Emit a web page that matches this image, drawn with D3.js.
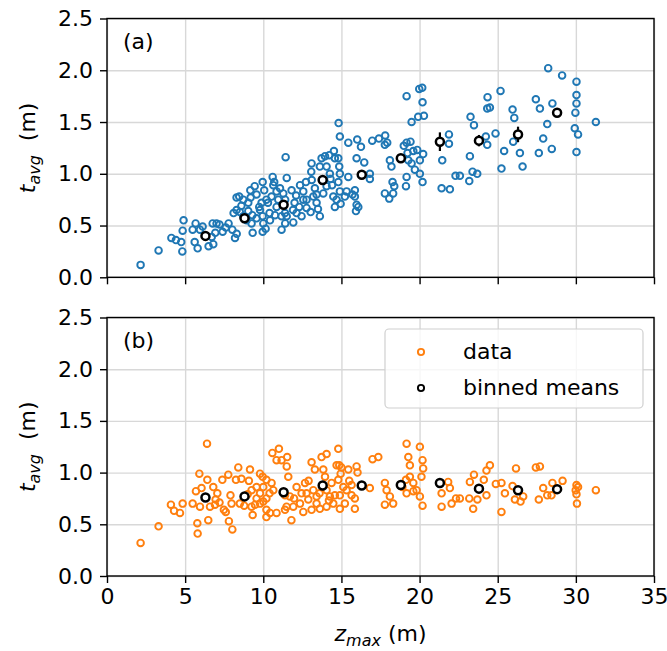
<!DOCTYPE html>
<html>
<head>
<meta charset="utf-8">
<script src="https://cdn.jsdelivr.net/npm/d3@7"></script>
<style>
  body { margin: 0; background: #fff; }
  svg { font-family: "DejaVu Sans", sans-serif; }
</style>
</head>
<body>
<svg id="chart"></svg>
<script>
// panel (a) data: [z_max, t_avg]
let dataA = [
  [2.15,0.12],[3.30,0.26],[4.12,0.38],[4.41,0.36],[4.75,0.34],[4.82,0.25],[4.90,0.55],[4.84,0.45],
  [5.48,0.46],[5.67,0.52],[5.61,0.34],[5.80,0.28],[5.95,0.46],[6.12,0.49],[6.50,0.30],[6.80,0.32],
  [6.76,0.52],[7.01,0.52],[6.93,0.43],[6.70,0.39],[7.40,0.44],[7.78,0.52],[8.02,0.46],[8.19,0.38],
  [8.30,0.42],[7.20,0.51],[8.29,0.77],[8.46,0.78],[9.17,0.84],[9.19,0.77],[8.29,0.65],[8.50,0.63],
  [9.04,0.64],[9.30,0.60],[9.25,0.52],[9.32,0.43],[8.72,0.59],[9.96,0.92],[10.06,0.84],[10.6,0.97],
  [10.64,0.89],[11.07,0.86],[9.89,0.72],[9.79,0.65],[9.96,0.59],[10.0,0.52],[10.15,0.47],[9.96,0.44],
  [10.3,0.72],[10.4,0.62],[10.85,0.68],[11.17,0.46],[11.43,1.16],[11.5,0.96],[11.4,0.52],
  [9.45,0.88],[9.57,0.80],[9.74,0.68],[10.2,0.75],[10.53,0.78],[10.85,0.83],[10.96,0.75],[11.28,0.81],
  [11.39,0.62],[11.17,0.59],[10.75,0.60],[10.43,0.55],[9.57,0.57],[8.93,0.55],[8.72,0.75],[9.04,0.72],
  [11.81,0.84],[11.5,0.59],[11.92,0.53],[12.35,0.89],[12.56,0.83],[12.73,0.92],[12.77,0.75],[13.09,1.10],
  [13.07,1.02],[13.1,0.94],[13.3,0.86],[13.41,0.80],[13.03,0.63],[13.62,0.59],[13.41,0.72],[13.62,1.07],
  [13.73,1.15],[13.95,1.17],[14.22,1.18],[14.52,1.22],[14.58,1.15],[14.05,1.07],[14.26,1.00],[14.05,0.88],
  [14.4,0.89],[14.48,0.78],[14.8,1.15],[14.86,1.07],[14.9,1.00],[14.82,1.49],[14.9,1.36],[14.8,0.92],
  [14.9,0.83],[14.95,0.71],[15.22,0.78],[15.44,0.97],[15.44,1.30],[15.71,0.80],[15.86,0.84],[15.97,1.15],
  [16.08,0.68],[15.93,0.64],[16.01,1.33],[16.25,1.26],[16.46,1.11],[16.82,1.00],[16.82,0.95],[16.97,1.32],
  [17.4,1.34],[17.8,1.37],[17.78,1.28],[17.93,1.30],[17.78,0.81],[18.06,0.76],[18.31,0.81],[18.1,1.13],
  [18.2,1.07],[18.27,0.92],[18.38,0.88],[18.99,1.27],[19.17,1.30],[19.42,1.31],[19.17,1.75],[19.49,1.50],
  [19.23,1.20],[19.28,1.13],[19.17,0.97],[19.13,0.88],[19.49,1.10],[19.6,1.22],[19.85,1.23],[19.7,1.04],
  [19.91,1.55],[19.98,1.82],[20.17,1.83],[20.19,1.69],[20.28,1.56],[20.02,1.13],[20.23,1.19],[20.19,0.92],
  [20.02,1.00],[21.45,1.13],[21.41,0.86],[21.94,0.85],[21.88,1.38],[21.88,1.29],[22.3,0.98],
  [11.4,0.75],[12.0,0.72],[12.3,0.68],[12.13,0.62],[12.56,0.75],[12.77,0.67],[13.2,0.78],[12.45,0.59],
  [13.84,0.81],[14.69,0.75],[14.58,0.68],[15.33,0.83],[15.86,0.78],[15.97,0.70],
  [8.6,0.69],[8.1,0.62],[10.7,0.92],[11.9,0.65],[12.1,0.79],[13.5,0.66],[14.3,0.95],[7.6,0.48],
  [22.58,0.98],[23.22,1.17],[23.18,0.93],[23.39,1.02],[23.69,1.00],[23.26,1.55],[23.48,1.47],[24.24,1.36],
  [24.33,1.28],[24.86,1.39],[24.35,1.74],[24.33,1.63],[24.5,1.64],[25.18,1.80],[25.24,1.05],[25.41,1.22],
  [25.95,1.62],[26.06,1.54],[25.99,1.31],[26.42,1.20],[26.59,1.07],[27.44,1.72],[27.7,1.63],[28.17,1.48],
  [27.91,1.34],[27.63,1.20],[28.46,1.24],[28.23,2.02],[28.5,1.68],[29.12,1.95],[30.04,1.89],[30.04,1.76],
  [30.04,1.68],[29.97,1.59],[29.93,1.44],[30.14,1.38],[30.04,1.21],[31.28,1.50]
];

// panel (b) data: [z_max, t_avg]
let dataB = [
  [2.15,0.32],[3.30,0.48],[4.09,0.69],[4.29,0.63],[4.67,0.61],[4.84,0.70],[5.48,0.70],[5.69,0.82],
  [5.91,0.99],[5.78,0.51],[5.80,0.41],[5.95,0.67],[6.05,0.85],[6.40,1.28],[6.42,0.93],[6.48,0.54],
  [6.59,0.67],[6.80,0.86],[6.91,0.69],[7.06,0.80],[7.38,0.93],[7.76,0.98],[7.48,0.64],[7.60,0.62],
  [7.80,0.53],[8.02,0.45],[7.90,0.78],[8.25,0.93],[8.40,1.05],[8.60,0.94],[8.78,0.68],[9.15,1.03],
  [9.08,0.92],[9.32,0.59],[9.47,0.69],[9.57,0.75],[9.79,0.99],[9.96,0.96],[10.0,0.86],[10.2,0.93],
  [10.0,0.72],[10.2,0.64],[10.43,0.61],[10.58,1.19],[11.0,1.23],[10.85,1.12],[11.17,1.12],[10.64,0.83],
  [11.39,0.64],[11.5,1.06],[9.25,0.83],[9.57,0.86],[9.79,0.80],[10.2,0.75],[10.53,0.90],[11.49,0.67],
  [10.85,0.61],[9.25,0.67],[11.39,0.78],[7.97,0.70],[8.5,0.70],[9.79,0.70],[10.2,0.57],[6.95,0.74],[7.2,0.71],
  [11.53,1.15],[11.6,0.96],[11.7,0.77],[11.8,0.54],[11.97,0.75],[12.35,0.70],[12.67,0.90],[12.77,0.80],
  [13.09,1.10],[13.3,1.03],[13.2,0.83],[13.41,0.77],[13.09,0.64],[13.73,1.15],[14.05,1.18],[13.84,1.03],
  [13.95,0.96],[13.62,0.65],[14.26,0.77],[14.48,0.70],[14.8,1.23],[14.86,1.07],[14.95,0.99],[14.8,0.93],
  [15.12,0.86],[14.9,0.78],[14.9,0.65],[15.44,1.03],[15.65,0.88],[15.97,1.06],[16.03,1.00],[15.86,0.75],
  [15.86,0.65],[16.82,0.85],[16.99,1.13],[17.36,1.15],[17.78,0.90],[17.89,0.83],[18.1,0.77],[17.78,0.69],
  [18.31,0.70],[19.17,1.28],[19.28,1.15],[19.38,1.07],[19.13,0.93],[19.17,0.80],[19.6,0.90],[19.81,0.83],
  [20.02,1.25],[20.19,1.12],[20.23,1.04],[20.12,0.96],[20.02,0.77],[20.19,0.68],[21.83,0.91],[21.94,0.85],
  [21.41,0.80],[21.41,0.67],[22.05,0.70],[22.33,0.75],
  [12.13,0.86],[12.45,0.80],[12.88,0.74],[11.92,0.67],[12.56,0.62],[13.41,0.70],[14.05,0.83],[14.37,0.90],
  [14.58,0.78],[15.33,0.83],[14.69,1.07],[14.05,0.67],[15.22,0.70],[15.65,0.78],[19.38,0.96],[19.6,0.82],
  [9.0,0.79],[10.4,0.80],[12.9,0.92],[13.6,0.80],[14.2,0.73],[15.0,1.05],[15.5,0.92],[18.9,0.86],
  [22.58,0.75],[23.48,0.98],[23.22,0.91],[23.18,0.75],[23.43,0.65],[23.7,0.74],[24.11,0.93],[24.28,1.02],
  [24.5,1.07],[24.28,0.78],[24.88,0.89],[25.24,0.90],[25.24,0.62],[25.46,0.80],[25.95,0.87],[26.17,1.04],
  [26.1,0.74],[26.46,0.72],[26.63,0.77],[27.44,1.05],[27.7,1.06],[27.63,0.74],[27.91,0.85],[28.17,0.78],
  [28.5,0.90],[28.44,0.78],[29.15,0.92],[30.04,0.88],[29.99,0.83],[30.04,0.79],[30.14,0.86],[30.07,0.70],
  [31.28,0.83]
];

// binned means
let binX = [6.3, 8.8, 11.3, 13.8, 16.3, 18.8, 21.3, 23.8, 26.3, 28.8];
let meanA = [0.40, 0.57, 0.70, 0.94, 0.99, 1.15, 1.31, 1.32, 1.38, 1.59];
let errA = [0.02, 0.02, 0.02, 0.03, 0.03, 0.035, 0.09, 0.055, 0.075, 0.04];
let meanB = [0.76, 0.77, 0.81, 0.875, 0.875, 0.88, 0.90, 0.845, 0.83, 0.84];
let errB = [0.02, 0.02, 0.02, 0.02, 0.02, 0.02, 0.02, 0.02, 0.025, 0.02];

let xTicks = [0, 5, 10, 15, 20, 25, 30, 35];
let yTicks = [0.0, 0.5, 1.0, 1.5, 2.0, 2.5];

let width = 667;
let height = 651;
let left = 107;
let right = 654;
let fontSize = 22;

let svg = d3.select("#chart").attr("width", width).attr("height", height);

let xScale = d3.scaleLinear().domain([0, 35]).range([left, right]);

let styleAxis = (s) => {
  s.select(".domain").remove();
  s.selectAll("text").attr("font-size", fontSize).attr("fill", "#000").attr("font-family", "DejaVu Sans");
  s.selectAll("line").attr("stroke-width", 1.4);
};

let drawPanel = (data, means, errs, color, top, bottom, label, showX) => {
  let yScale = d3.scaleLinear().domain([0, 2.5]).range([bottom, top]);
  let g = svg.append("g");

  // grid
  g.append("g")
    .attr("transform", "translate(0," + bottom + ")")
    .call(d3.axisBottom(xScale).tickValues(xTicks).tickSize(-(bottom - top)).tickFormat(""))
    .call((s) => s.select(".domain").remove())
    .selectAll("line").attr("stroke", "#d8d8d8").attr("stroke-width", 1.4);
  g.append("g")
    .attr("transform", "translate(" + left + ",0)")
    .call(d3.axisLeft(yScale).tickValues(yTicks).tickSize(-(right - left)).tickFormat(""))
    .call((s) => s.select(".domain").remove())
    .selectAll("line").attr("stroke", "#d8d8d8").attr("stroke-width", 1.4);

  // data points
  g.append("g")
    .selectAll("circle")
    .data(data)
    .enter()
    .append("circle")
    .attr("cx", (d) => xScale(d[0]))
    .attr("cy", (d) => yScale(d[1]))
    .attr("r", 3.3)
    .attr("fill", "none")
    .attr("stroke", color)
    .attr("stroke-width", 1.9);

  // error bars
  g.append("g")
    .selectAll("line")
    .data(binX)
    .enter()
    .append("line")
    .attr("x1", (d) => xScale(d))
    .attr("x2", (d) => xScale(d))
    .attr("y1", (d, i) => yScale(means[i] - errs[i]))
    .attr("y2", (d, i) => yScale(means[i] + errs[i]))
    .attr("stroke", "#000")
    .attr("stroke-width", 2.2);

  // binned means
  g.append("g")
    .selectAll("circle")
    .data(binX)
    .enter()
    .append("circle")
    .attr("cx", (d) => xScale(d))
    .attr("cy", (d, i) => yScale(means[i]))
    .attr("r", 4)
    .attr("fill", "#fff")
    .attr("stroke", "#000")
    .attr("stroke-width", 2.5);

  // axes
  g.append("g")
    .attr("transform", "translate(" + left + ",0)")
    .call(d3.axisLeft(yScale).tickValues(yTicks).tickFormat(d3.format(".1f")).tickSize(7).tickPadding(7))
    .call(styleAxis);

  g.append("g")
    .attr("transform", "translate(0," + bottom + ")")
    .call(d3.axisBottom(xScale).tickValues(xTicks).tickSize(7).tickPadding(5)
      .tickFormat(showX ? d3.format("d") : ""))
    .call(styleAxis);

  // frame
  g.append("rect")
    .attr("x", left)
    .attr("y", top)
    .attr("width", right - left)
    .attr("height", bottom - top)
    .attr("fill", "none")
    .attr("stroke", "#000")
    .attr("stroke-width", 1.4);

  // panel label
  g.append("text")
    .attr("x", left + 16)
    .attr("y", top + 30)
    .attr("font-size", fontSize)
    .text(label);

  // y label
  let yl = g.append("text")
    .attr("transform", "translate(35," + (top + bottom) / 2 + ") rotate(-90)")
    .attr("text-anchor", "middle")
    .attr("font-size", fontSize);
  yl.append("tspan").attr("font-style", "italic").text("t");
  yl.append("tspan").attr("font-style", "italic").attr("font-size", 16).attr("dy", 5).text("avg");
  yl.append("tspan").attr("dy", -5).text("\u00a0\u00a0(m)");
};

drawPanel(dataA, meanA, errA, "#1f77b4", 18.5, 277.3, "(a)", false);
drawPanel(dataB, meanB, errB, "#ff7f0e", 317.5, 576, "(b)", true);

// x label
let xl = svg.append("text")
  .attr("x", (left + right) / 2)
  .attr("y", 641)
  .attr("text-anchor", "middle")
  .attr("font-size", fontSize);
xl.append("tspan").attr("font-style", "italic").text("z");
xl.append("tspan").attr("font-style", "italic").attr("font-size", 16).attr("dy", 5).text("max");
xl.append("tspan").attr("dy", -5).text(" (m)");

// legend
let legend = svg.append("g");
legend.append("rect")
  .attr("x", 385)
  .attr("y", 329)
  .attr("width", 258)
  .attr("height", 79)
  .attr("rx", 4)
  .attr("fill", "#fff")
  .attr("fill-opacity", 0.8)
  .attr("stroke", "#d0d0d0")
  .attr("stroke-width", 1.2);

let legendItems = [
  { name: "data", stroke: "#ff7f0e", fill: "none" },
  { name: "binned means", stroke: "#000", fill: "#fff" },
];
legendItems.forEach((item, i) => {
  let y = 352 + i * 36;
  legend.append("circle")
    .attr("cx", 421)
    .attr("cy", y)
    .attr("r", 3.1)
    .attr("fill", item.fill)
    .attr("stroke", item.stroke)
    .attr("stroke-width", 1.9);
  legend.append("text")
    .attr("x", 463)
    .attr("y", y + 7)
    .attr("font-size", fontSize)
    .text(item.name);
});
</script>
</body>
</html>
